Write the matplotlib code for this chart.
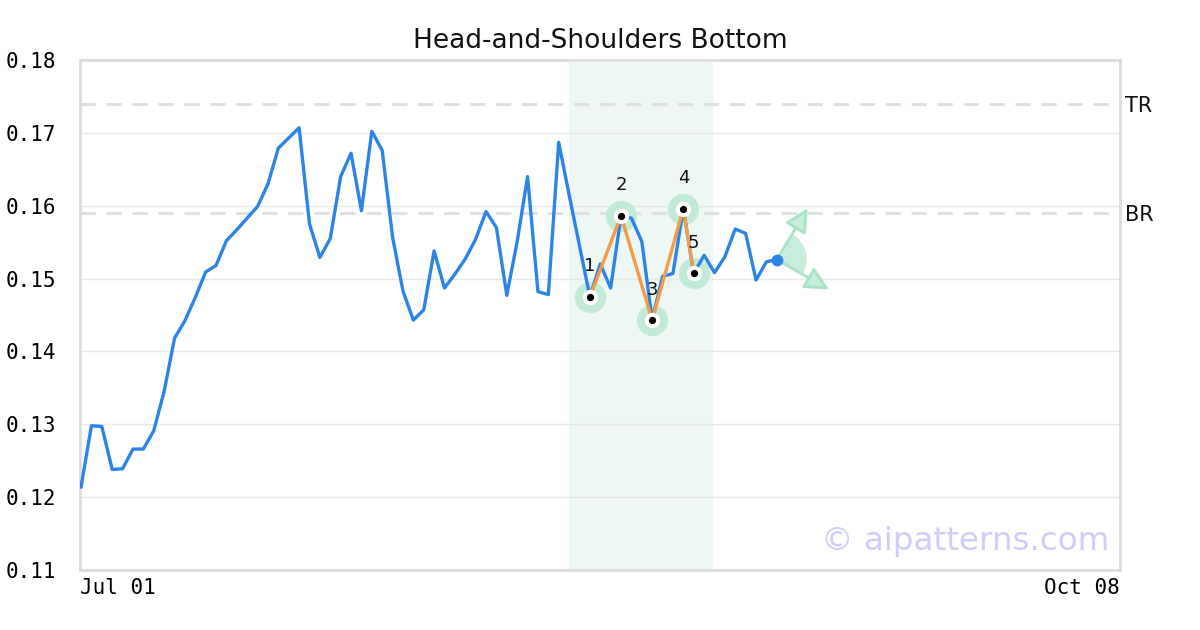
import matplotlib
matplotlib.use("Agg")
import matplotlib.pyplot as plt
from matplotlib.patches import Wedge, FancyArrowPatch
from matplotlib.transforms import ScaledTranslation, blended_transform_factory
import numpy as np

# ---- data ----
prices = [0.1214, 0.1298, 0.1297, 0.1238, 0.1239, 0.1266, 0.1266, 0.1291, 0.1345, 0.1418,
          0.1442, 0.1474, 0.1509, 0.1518, 0.1552, 0.1567, 0.1583, 0.1599, 0.1630, 0.1679,
          0.1693, 0.1707, 0.1575, 0.1529, 0.1555, 0.1640, 0.1672, 0.1593, 0.1702, 0.1676,
          0.1557, 0.1483, 0.1443, 0.1457, 0.1538, 0.1487, 0.1506, 0.1527, 0.1554, 0.1592,
          0.1570, 0.1477, 0.1551, 0.1640, 0.1482, 0.1478, 0.1687, 0.1615, 0.1545, 0.1475,
          0.1520, 0.1487, 0.1586, 0.1583, 0.1551, 0.1443, 0.1503, 0.1507, 0.1596, 0.1507,
          0.1532, 0.1508, 0.1530, 0.1568, 0.1562, 0.1498, 0.1523, 0.1526]
pattern_idx = [49, 52, 55, 58, 59]
pattern_labels = ["1", "2", "3", "4", "5"]
shade_range = [47, 60.85]
tr_level = 0.1740
br_level = 0.1590
y_ticks = [0.11, 0.12, 0.13, 0.14, 0.15, 0.16, 0.17, 0.18]
x_tick_labels = ["Jul 01", "Oct 08"]
x_limits = [-0.1, 100.05]
title = "Head-and-Shoulders Bottom"

BLUE = "#2b84e6"
ORANGE = "#f59a45"
MINT = "#c2ebd7"
SHADE = "#eef7f3"
GRID = "#e8e8e8"
FRAME = "#dcdcdc"

fig = plt.figure(figsize=(12, 6.3), dpi=100)
ax = fig.add_axes([80/1200, 1-570/630, 1040/1200, 510/630])

x = np.arange(len(prices))
ax.set_xlim(*x_limits)
ax.set_ylim(y_ticks[0], y_ticks[-1])

# shaded pattern region
ax.axvspan(shade_range[0], shade_range[1], color=SHADE, zorder=0, lw=0)

# grid
ax.set_yticks(y_ticks)
ax.yaxis.grid(True, color=GRID, lw=1, zorder=0.5)
ax.set_axisbelow(True)

# TR / BR
for lvl, lab in [(tr_level, "TR"), (br_level, "BR")]:
    ax.axhline(lvl, color="#e0e0e0", lw=2.2, ls=(0, (5, 3.5)), zorder=1)
    ax.text(1.005, lvl, lab, transform=blended_transform_factory(ax.transAxes, ax.transData),
            ha="left", va="center_baseline", fontsize=15, color="#111111", family="DejaVu Sans")

# price line
ax.plot(x, prices, color=BLUE, lw=2.4, zorder=3)

# pattern
px = [x[i] for i in pattern_idx]
py = [prices[i] for i in pattern_idx]
ax.plot(px, py, color=ORANGE, lw=2.4, zorder=4)
ax.plot(px, py, "o", ms=22.5, color=MINT, mec="none", zorder=2.5)
ax.plot(px, py, "o", ms=11, color="white", mec="none", zorder=5)
ax.plot(px, py, "o", ms=5.2, color="black", mec="none", zorder=6)
for xx, yy, lab in zip(px, py, pattern_labels):
    ax.annotate(lab, (xx, yy), xytext=(0, 22), textcoords="offset points",
                ha="center", va="center", fontsize=13, color="#111111", zorder=7)

# end point and projection arrows
ex, ey = x[-1], prices[-1]
trans = fig.dpi_scale_trans + ScaledTranslation(ex, ey, ax.transData)
r = 0.30
a_up, a_dn = 59.0, -29.8
L = 0.60
ax.add_patch(Wedge((0, 0), r, a_dn, a_up, transform=trans, color=MINT, alpha=0.9, lw=0, zorder=2))
for ang in (a_up, a_dn):
    tip = (L*np.cos(np.radians(ang)), L*np.sin(np.radians(ang)))
    arr = FancyArrowPatch((0, 0), tip, transform=trans,
                          arrowstyle="-|>,head_length=1.1,head_width=0.55",
                          mutation_scale=13, lw=2.0, ec="#a8e3c6", fc="#c8eedc",
                          shrinkA=0, shrinkB=0, zorder=2.2)
    ax.add_patch(arr)
ax.plot([ex], [ey], "o", ms=8.5, color=BLUE, mec="none", zorder=6)

# watermark
ax.text(0.99, 0.055, "\u00a9 aipatterns.com", transform=ax.transAxes, ha="right", va="center",
        fontsize=23.4, color="#cfcdfa", zorder=8)

# axes styling
for s in ax.spines.values():
    s.set_color(FRAME)
    s.set_linewidth(2)
ax.tick_params(axis="y", length=0, pad=17, labelsize=15)
ax.set_yticklabels([f"{v:.2f}" for v in y_ticks], family="DejaVu Sans Mono")
ax.set_xticks(x_limits)
ax.set_xticklabels(x_tick_labels, family="DejaVu Sans Mono")
ax.tick_params(axis="x", length=0, pad=6, labelsize=15)
tl = ax.get_xticklabels()
tl[0].set_ha("left")
tl[1].set_ha("right")

fig.text(0.5, 1-41/630, title, ha="center", va="center", fontsize=19, color="#111111")

fig.savefig("out.png", dpi=100, facecolor="white")
